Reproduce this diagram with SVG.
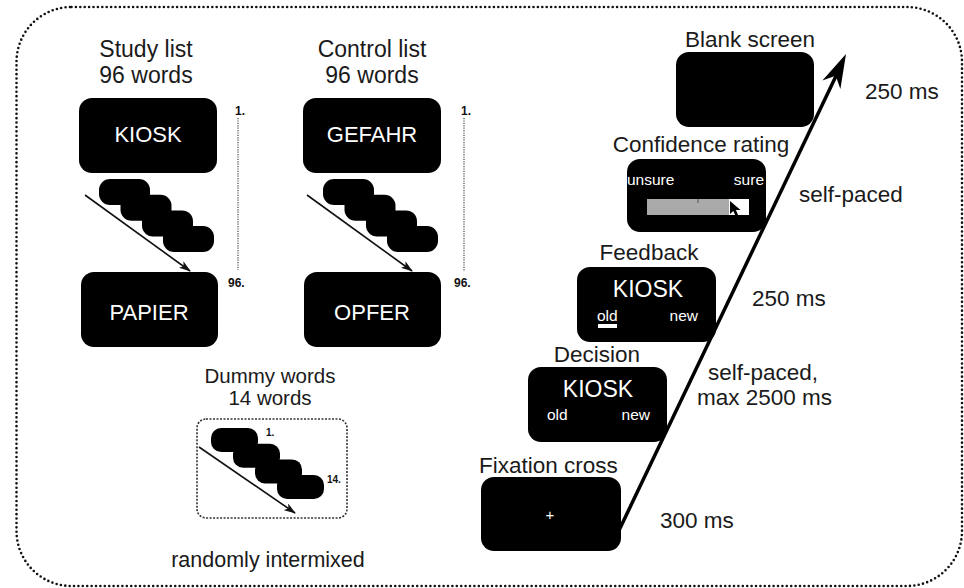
<svg xmlns="http://www.w3.org/2000/svg" width="964" height="588" viewBox="0 0 964 588">
<defs>
<marker id="ah" viewBox="0 0 12 8" refX="11" refY="4" markerWidth="12" markerHeight="8" markerUnits="userSpaceOnUse" orient="auto"><path d="M0,0 L12,4 L0,8 L3,4 Z" fill="#111"/></marker>
</defs>
<style>
text{font-family:"Liberation Sans",Arial,sans-serif}
.lbl{fill:#1a1a1a;font-size:23px}
.lblr{fill:#1a1a1a;font-size:22.5px}
.lbls{fill:#1a1a1a;font-size:20.5px}
.scr{fill:#000}
.wt{fill:#fff;font-size:22px}
.ws{fill:#fff;font-size:15.5px}
.num{fill:#111;font-size:12px;font-weight:bold}
.vdot{stroke:#555;stroke-width:1.3;stroke-dasharray:1.2 1.2;fill:none}
.thin{stroke:#111;stroke-width:1.6;fill:none}
.stk{fill:#000}
</style>
<rect x="16.5" y="7" width="945.5" height="579" rx="55" fill="none" stroke="#111" stroke-width="2.6" stroke-linecap="round" stroke-dasharray="0 4.4"/>

<g id="study-list">
<text class="lbl" x="146" y="57" text-anchor="middle">Study list</text>
<text class="lbl" x="146" y="83" text-anchor="middle">96 words</text>
<rect class="scr" x="79" y="98" width="138" height="75" rx="13"/>
<text class="wt" x="148" y="142" text-anchor="middle">KIOSK</text>
<g class="stk">
<rect x="99" y="179" width="51" height="26" rx="11"/>
<rect x="120.5" y="194.7" width="51" height="26" rx="11"/>
<rect x="142" y="210.4" width="51" height="26" rx="11"/>
<rect x="163" y="226" width="51" height="26" rx="11"/>
</g>
<text class="num" x="235" y="115">1.</text>
<text class="num" x="228" y="287">96.</text>
<rect class="scr" x="81" y="272" width="137" height="75" rx="13"/>
<text class="wt" x="149" y="320" text-anchor="middle">PAPIER</text>
</g>

<g id="control-list">
<text class="lbl" x="372" y="57" text-anchor="middle">Control list</text>
<text class="lbl" x="372" y="83" text-anchor="middle">96 words</text>
<rect class="scr" x="303" y="98" width="138" height="75" rx="13"/>
<text class="wt" x="372" y="142" text-anchor="middle">GEFAHR</text>
<g class="stk">
<rect x="323" y="179" width="51" height="26" rx="11"/>
<rect x="344.5" y="194.7" width="51" height="26" rx="11"/>
<rect x="366" y="210.4" width="51" height="26" rx="11"/>
<rect x="387" y="226" width="51" height="26" rx="11"/>
</g>
<text class="num" x="461" y="115">1.</text>
<text class="num" x="454" y="287">96.</text>
<rect class="scr" x="304" y="272" width="137" height="75" rx="13"/>
<text class="wt" x="372" y="320" text-anchor="middle">OPFER</text>
</g>

<g id="dummy-words">
<text class="lbls" x="270" y="383" text-anchor="middle">Dummy words</text>
<text class="lbls" x="270" y="405" text-anchor="middle">14 words</text>
<rect x="197" y="419" width="150" height="99" rx="9" fill="none" stroke="#333" stroke-width="1.6" stroke-dasharray="2 1.5"/>
<g class="stk">
<rect x="211" y="428" width="47" height="24" rx="10"/>
<rect x="233" y="443.7" width="47" height="24" rx="10"/>
<rect x="255" y="459.4" width="47" height="24" rx="10"/>
<rect x="277" y="475" width="47" height="24" rx="10"/>
</g>
<text class="num" x="266" y="436" style="font-size:10px">1.</text>
<text class="num" x="327" y="483" style="font-size:10px">14.</text>
<text class="lbl" x="268" y="567" text-anchor="middle" style="font-size:21.5px">randomly intermixed</text>
</g>

<g id="blank-screen">
<text class="lblr" x="750" y="47" text-anchor="middle">Blank screen</text>
<rect class="scr" x="676" y="52" width="138" height="75" rx="13"/>
<text class="lblr" x="865" y="99">250 ms</text>
</g>

<g id="confidence-rating">
<text class="lblr" x="701" y="152" text-anchor="middle">Confidence rating</text>
<rect class="scr" x="627" y="159" width="139" height="73" rx="13"/>
<text class="ws" x="627" y="185">unsure</text>
<text class="ws" x="764" y="185" text-anchor="end">sure</text>
<rect x="647" y="199" width="82" height="16" fill="#aaa"/>
<rect x="729" y="199" width="20" height="16" fill="#fff"/>
<line x1="698" y1="199" x2="698" y2="203" stroke="#555" stroke-width="1"/>
<path d="M730,201 L730,214 L733.3,211 L735.8,216.5 L738.3,215.4 L735.9,210 L740.5,210 Z" fill="#000"/>
<text class="lblr" x="799" y="202">self-paced</text>
</g>

<g id="feedback">
<text class="lblr" x="649" y="260" text-anchor="middle">Feedback</text>
<rect class="scr" x="577" y="267" width="139" height="75" rx="13"/>
<text class="wt" x="648" y="297" text-anchor="middle" style="font-size:23px">KIOSK</text>
<text class="ws" x="597" y="321">old</text>
<rect x="598" y="324" width="19" height="4" fill="#fff"/>
<text class="ws" x="698" y="321" text-anchor="end">new</text>
<text class="lblr" x="752" y="306">250 ms</text>
</g>

<g id="decision">
<text class="lblr" x="597" y="362" text-anchor="middle">Decision</text>
<rect class="scr" x="528" y="367" width="139" height="75" rx="13"/>
<text class="wt" x="598" y="397" text-anchor="middle" style="font-size:23px">KIOSK</text>
<text class="ws" x="547" y="420">old</text>
<text class="ws" x="650" y="420" text-anchor="end">new</text>
<text class="lblr" x="708" y="380">self-paced,</text>
<text class="lblr" x="697" y="405">max 2500 ms</text>
</g>

<g id="fixation-cross">
<text class="lblr" x="479" y="473">Fixation cross</text>
<rect class="scr" x="481" y="477" width="140" height="74" rx="13"/>
<text x="550" y="520" text-anchor="middle" fill="#fff" style="font-size:15px">+</text>
<text class="lblr" x="660" y="528">300 ms</text>
</g>

<g id="connectors">
<line class="vdot" x1="238" y1="118" x2="238" y2="270"/>
<line class="vdot" x1="464" y1="118" x2="464" y2="271"/>
<line class="thin" x1="85" y1="195" x2="190" y2="271" marker-end="url(#ah)"/>
<line class="thin" x1="307" y1="195" x2="412" y2="271" marker-end="url(#ah)"/>
<line class="thin" x1="199" y1="447" x2="295" y2="513" marker-end="url(#ah)"/>
<line x1="612" y1="545" x2="836" y2="76" stroke="#000" stroke-width="3.5"/>
<path d="M846,54 L840.4,89 L835.7,75.7 L822.4,80.4 Z" fill="#000"/>
</g>
</svg>
